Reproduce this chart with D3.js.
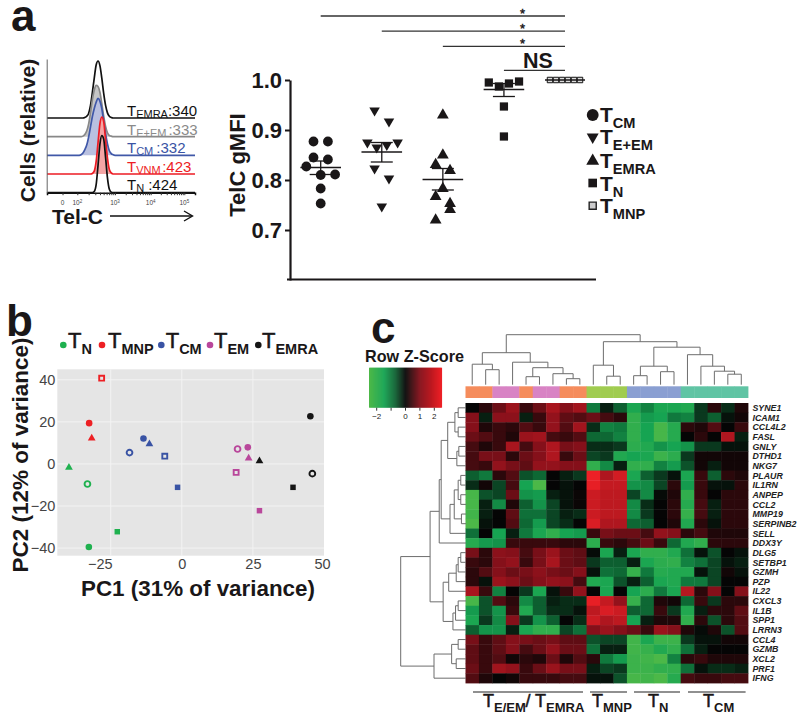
<!DOCTYPE html>
<meta charset="utf-8">
<style>
body { margin: 0; background: #fff; }
svg { display: block; font-family: "Liberation Sans", Arial, sans-serif; }
</style>
<body>
<script src="https://d3js.org/d3.v7.min.js"></script>
<script>

// ---- panel a, histograms (bin position in decades, height in % of mode)
var flowBins = [1.2,2,2.05,2.1,2.15,2.2,2.25,2.3,2.35,2.4,2.45,2.5,2.55,2.6,2.65,2.7,2.75,2.8,2.85,2.9,2.95,3,5.3];
var flowEmra = [0,0,0,0,0,1,3,8,22,45,70,93,100,92,70,43,22,9,3,1,0,0,0];
var flowEem  = [0,0,0,0,1,4,10,22,42,65,82,90,88,78,58,36,18,7,2,1,0,0,0];
var flowCm   = [0,0,0,1,4,10,18,32,50,68,82,93,100,95,82,60,38,20,8,3,1,0,0];
var flowVnm  = [0,0,0,0,0,0,0,0,0,1,5,22,55,88,100,92,60,28,8,2,0,0,0];
var flowN    = [0,0,0,0,0,0,0,0,0,0,2,14,48,85,100,94,62,26,6,1,0,0,0];

// ---- panel a, scatter
var scatterGroups = ["TCM","TEEM","TEMRA","TN","TMNP"];
var tcmValues   = [.877,.877,.845,.841,.827,.81,.811,.783,.753];
var tcmSlots    = [-1,1,-1,1,-2,0,2,0,0];
var teemValues  = [.939,.917,.875,.865,.87,.875,.823,.803,.747];
var teemSlots   = [-1,1,-2,-.7,.7,2.2,-1,1,0];
var temraValues = [.93,.85,.831,.819,.783,.767,.753,.741,.72];
var temraSlots  = [0,0,-1,1,0,-1,1,1,-1];
var tnValues    = [.995,.987,.993,.997,.947,.887];
var tnSlots     = [-2.1,-.7,.7,2.1,0,0];
var tmnpValues  = [1,1,1,1,1,1];
var tmnpSlots   = [-2.5,-1.5,-.5,.5,1.5,2.5];
var scatterMean = [.825,.856,.801,.981,1];
var scatterLow  = [.811,.836,.78,.967,1];
var scatterHigh = [.838,.875,.823,.993,1];
var yTicksA = [.7,.8,.9,1];
var compareFrom = ["TCM","TEEM","TEMRA","TN"];
var compareText = ["*","*","*","NS"];

// ---- panel b, PCA
var pcaColors = {TN:"#1fb14f", TMNP:"#ed2024", TCM:"#3953a4", TEM:"#b9479b", TEMRA:"#151515"};
var pcaGroup = ["TN","TN","TN","TN","TMNP","TMNP","TMNP","TCM","TCM","TCM","TCM","TCM","TEM","TEM","TEM","TEM","TEM","TEMRA","TEMRA","TEMRA","TEMRA"];
var pcaShape = ["tri","ocirc","sq","circ","osq","circ","tri","ocirc","circ","tri","osq","sq","ocirc","circ","tri","osq","sq","circ","tri","ocirc","sq"];
var pc1 = [-39.7,-33.2,-22.7,-32.7,-28.2,-32.6,-31.7,-18.4,-13.5,-11.4,-6,-1.5,19.6,23.2,23.5,19.1,27.3,45.2,27.3,45.9,39.1];
var pc2 = [-1.7,-9.5,-32.2,-39.5,40.8,19.4,12.2,5.4,12.1,9.5,3.7,-11.1,7.1,7.9,2.7,-4,-22.2,22.7,1.4,-4.6,-11.1];
var pcaLegend = ["TN","TMNP","TCM","TEM","TEMRA"];

// ---- panel c, heatmap
var geneLabels = ["SYNE1","ICAM1","CCL4L2","FASL","GNLY","DTHD1","NKG7","PLAUR","IL1RN","ANPEP","CCL2","MMP19","SERPINB2","SELL","DDX3Y","DLG5","SETBP1","GZMH","PZP","IL22","CXCL3","IL1B","SPP1","LRRN3","CCL4","GZMB","XCL2","PRF1","IFNG"];
var columnGroup = ["o","o","p","p","o","p","p","o","o","g","g","g","b","b","b","b","t","t","t","t","t"];
var groupColors = {o:"#f58c5c", p:"#d883c4", g:"#a0cc50", b:"#8a9fd2", t:"#60c4a4"};
var heatValues = [
  [0,.3,.8,1.3,.4,.8,1.5,1,1.4,-1,-.2,-.7,-1.6,-1.1,-1.6,-1.6,-1.7,-.4,.3,-.3,.2],
  [1,-.2,1.1,1.1,-.2,.4,1.2,.7,.6,.8,.5,.3,-2,-1.4,-1.5,-1,-1.1,-.4,-.7,-.1,.1],
  [1,.2,.4,.3,.6,.4,1.2,.6,1.4,-.3,-1.1,-1,-2,-1.5,-2.4,-1.8,.3,.2,.6,0,.4],
  [.8,.6,.4,.2,1.3,1.4,.5,.4,.6,-.8,-.8,-1.1,-2,-1.5,-2.4,-1.8,0,.3,0,1.6,-.2],
  [.5,.2,.4,1.5,.5,1,1.6,.9,1,-.3,-.3,-.4,-1.9,-1.7,-1.3,-1.5,-1.3,-.4,-.4,-.1,-.1],
  [.5,.9,.9,.3,.8,1,1.6,.4,.8,-.5,-.4,-1.7,-1.5,-1.6,-2.2,-1.9,-.4,.1,.1,.1,.1],
  [.5,.4,1.2,.9,.7,1.2,1.2,1,1,-2,-1.2,-.2,-2,-2,-1.1,-1.4,-.6,.1,-.2,.1,.1],
  [-.7,-1,.3,.6,-.6,-.8,0,-.2,-.4,2.5,1.6,2.1,-1.6,-.7,-.4,-.1,-1.6,.4,-.7,.3,.2],
  [-.3,.1,-.5,.5,-1.5,-2.5,0,-.1,0,2.4,1.9,1.9,-1.3,-1.2,-.5,.3,-1.4,.4,-.1,-.1,.3],
  [-2.4,-.6,-.5,.8,-1.3,-1.4,-.2,-.1,.05,2,1.8,1.8,-.5,-1.2,-.05,.2,-2,.4,0,.3,.3],
  [-2.4,-.2,-1.2,.2,-.7,-1.3,-.5,-.1,.05,2,1.8,1.8,-1.2,-.3,0,.3,-1.8,.5,-.2,.3,.3],
  [-2.3,-.2,0,.7,-.9,-.9,-.5,-.2,-.3,2,1.8,1.8,-1.2,-.4,0,.3,-2.1,.5,-.2,.3,.3],
  [-2.5,-.1,0,.6,-.8,-1.4,-.5,-.3,0,2.2,1.6,1.6,-.8,-.7,0,.2,-1.7,.3,-.1,.3,.3],
  [-.9,0,-1.5,-.2,-1,-1.6,-2,-1.5,-1.4,.4,.9,.8,.8,.5,1.2,1,.3,.5,.2,.2,.2],
  [-1.8,-1.4,-1.3,.4,.4,.4,.4,.3,.3,-1.9,.4,.3,.5,.8,.4,-.8,-1.7,-2,.3,.3,.3],
  [.9,.3,1.1,1,.5,.9,1.3,.8,.7,-.05,-1.6,-.2,-1.6,-2,-2,-1.7,-.9,-.1,-.6,0,-.1],
  [.4,.3,1,1.2,.4,.9,1.5,.8,.7,-.4,-.7,-.7,-.2,-1.6,-1.9,-2,-1.1,-.9,-.5,-.1,-.2],
  [.3,.6,1,.8,.9,1.1,.9,.8,1,-.1,-.9,-.8,-2.1,-1,-1.8,-1.7,-1.7,-.1,-.5,.1,-.1],
  [.3,-.1,1.3,1.1,.8,1,1.2,1.1,.5,-1.7,-1.6,-.6,-.2,-.7,-1.6,-1.7,-1,-1,-.5,0,0],
  [1.5,.4,-1.1,0,-.4,-1.6,-.1,.4,1.2,0,-1.6,0,-1.5,-1.9,-1,-1.6,1.7,.3,1,0,1],
  [-2.4,-.6,.6,.3,-1.2,-.7,-.2,-.3,-.3,2.4,1.9,1.2,-2.1,-.8,.2,.1,-.8,.4,-.4,.3,.3],
  [-1.4,-.6,-1.3,.4,-1.7,-.7,-.3,-.3,-.1,1.8,2.2,2,-.7,-.8,.4,-.4,-1.7,-.2,.3,.3,.7],
  [-1.6,-.4,-1.2,1,-.4,-1.3,-.7,0,-.3,2,1.6,1.8,-1.5,-.2,.2,.2,-2,.3,-.6,.3,.6],
  [-.7,-1.3,-1.3,-.2,-1.6,-2,-2,-.5,-.9,1,1.3,1,.8,.4,1.3,1,.2,-.05,.2,-.6,.6],
  [.9,.4,.7,1,.9,.8,.9,.7,.7,-.6,-.5,-.5,-2.3,-1.6,-2.2,-2.2,-.4,-.1,-.1,.1,.1],
  [.7,.4,.7,1,.5,.8,1.2,.8,.8,-.9,-.2,-.2,-2.3,-2.1,-1.7,-2,-.9,-.2,0,0,0],
  [.7,.4,.6,.1,.3,.2,.8,.2,.6,.3,-1,-1.4,-2.2,-2.3,-2.5,-1.1,.3,.4,.2,.2,.2],
  [.8,.4,1.4,1.2,.4,.8,1.3,.9,.9,-.2,-.5,-.4,-2.2,-2.2,-2,-2,-.9,-.1,-.3,-.3,-.2],
  [.6,.2,0,.1,.4,.4,.4,.5,.5,-.1,-.1,-.6,-2.4,-2.3,-2.5,-1.8,.5,.4,.4,.5,.5]
];
// dendrograms: [merge distance, left, right], numbers are leaf indexes
var columnTree = [10,
  [6.4, [4.1, 0, [3, 1, 2]], [4.5, 3, [3.4, [1.6, 4, 5], [2.2, 6, [1.2, 7, 8]]]]],
  [8.6, [3.9, 9, [1.7, 10, 11]],
    [7.5, [3.7, [1.8, 12, 13], [2.6, 14, 15]], [6, 16, [3.7, 17, [2.7, 18, [2.1, 19, 20]]]]]]];
var rowTree = [10,
  [5.5,
    [4.1, [3.8,
      [2.8, [1.7, [1.2, 0, 1], [1.2, 2, 3]], [1.4, [1.1, 4, 5], 6]],
      [2.45, [1.8, [1.2, [.8, 7, 8], [.8, 9, 10]], [.7, 11, 12]], 13]], 14],
    [3.5,
      [2.65, [1.5, [1.2, [.8, 15, 16], 17], 18], 19],
      [2, [1.6, [1.2, 20, 21], 22], 23]]],
  [4.9, [2.2, [1.2, 24, 25], [1.5, 26, 27]], 28]];
var keyTicks = [-2,-1,0,1,2];

var svg = d3.select("body").append("svg")
    .attr("width", 800)
    .attr("height", 720);

// T with a subscript and an optional tail, used all over the figure
function tLabel(parent, x, y, sub, o) {
  var t = parent.append("text")
      .attr("x", x).attr("y", y)
      .attr("fill", o.color || "#111")
      .attr("font-size", o.size)
      .attr("font-weight", o.bold ? "bold" : null);
  var main = t.append("tspan").text("T");
  if (o.heavy) main.attr("stroke", o.color).attr("stroke-width", o.heavy);
  t.append("tspan")
      .attr("dy", o.drop)
      .attr("font-size", o.subSize)
      .attr("font-weight", o.subBold ? "bold" : null)
      .text(sub);
  if (o.tail) {
    t.append("tspan").attr("dy", -o.drop).attr("dx", o.tailDx || 0).text(o.tail);
  }
  return t;
}

function panelLetter(letter, x, y) {
  svg.append("text").attr("x", x).attr("y", y)
      .attr("font-size", 44).attr("font-weight", "bold").attr("fill", "#1a1718")
      .text(letter);
}

panelLetter("a", 11, 31);
panelLetter("b", 6, 336);
panelLetter("c", 371, 343);

// ------------------------------------------------ panel a, histograms
var flowX = d3.scaleLinear().domain([1.2, 2, 3, 4, 5, 5.3]).range([47, 77.3, 115, 150.7, 184.3, 195]);
var flowY = d3.scaleLinear().domain([0, 100]).range([0, -57]);
var flowRows = [
  {values: flowEmra, base: 118, line: "#111", fill: "none", sub: "EMRA", tail: ":340", y: 116, tc: "#111", dx: 0},
  {values: flowEem, base: 136.7, line: "#888", fill: "#c6c6c6", sub: "E+EM", tail: ":333", y: 135, tc: "#8a8a8a", dx: 2},
  {values: flowCm, base: 155.3, line: "#4058a8", fill: "#b9c0e0", sub: "CM", tail: ":332", y: 153, tc: "#3a53a4", dx: 3},
  {values: flowVnm, base: 174, line: "#ed1c24", fill: "#f4a5a5", sub: "VNM", tail: ":423", y: 172, tc: "#ed1c24", dx: 1.5},
  {values: flowN, base: 192.7, line: "#111", fill: "none", sub: "N", tail: ":424", y: 190, tc: "#111", dx: 4}
];

var flow = svg.append("g");
flowRows.forEach(function(row) {
  var pts = flowBins.map(function(b, i) { return [b, row.values[i]]; });
  var g = flow.append("g").attr("transform", "translate(0," + row.base + ")");
  g.append("path").datum(pts)
      .attr("fill", row.fill)
      .attr("d", d3.area().x(function(d) { return flowX(d[0]); }).y0(0).y1(function(d) { return flowY(d[1]); }).curve(d3.curveMonotoneX));
  g.append("path").datum(pts)
      .attr("fill", "none").attr("stroke", row.line).attr("stroke-width", 1.7)
      .attr("d", d3.line().x(function(d) { return flowX(d[0]); }).y(function(d) { return flowY(d[1]); }).curve(d3.curveMonotoneX));
  tLabel(flow, 127, row.y, row.sub, {color: row.tc, size: 15, subSize: 11, drop: 2, tail: row.tail, tailDx: row.dx});
});

// log ticks, the 0 tick sits below the first decade
var flowTicks = [1.61];
[2, 3, 4].forEach(function(dec) {
  d3.range(1, 10).forEach(function(k) { flowTicks.push(dec + Math.log10(k)); });
});
flowTicks.push(5);
var flowAxis = d3.axisBottom(flowX).tickValues(flowTicks).tickSize(2.5).tickPadding(2)
    .tickFormat(function() { return ""; });
var fa = flow.append("g").attr("transform", "translate(0,192.7)").call(flowAxis);
fa.select(".domain").attr("stroke-width", 1.5).attr("stroke", "#111");
fa.selectAll(".tick line").attr("stroke", "#333");
[[1.61, "0"], [2, "10"], [3, "10"], [4, "10"], [5, "10"]].forEach(function(t, i) {
  var lab = flow.append("text").attr("x", flowX(t[0])).attr("y", 205)
      .attr("text-anchor", "middle").attr("font-size", 6.5).attr("fill", "#444").text(t[1]);
  if (i > 0) lab.append("tspan").attr("dy", -2).attr("font-size", 4.5).text(i + 1);
});
flow.append("g").attr("transform", "translate(46.7,0)")
    .call(d3.axisLeft(d3.scaleLinear().domain([0, 100]).range([192.7, 59])).ticks(0).tickSize(0))
    .select(".domain").attr("stroke", "#666").attr("stroke-width", 1);

svg.append("text").attr("transform", "translate(35,130.5) rotate(-90)")
    .attr("text-anchor", "middle").attr("font-size", 21).attr("font-weight", "bold").attr("fill", "#1a1718")
    .text("Cells (relative)");
svg.append("text").attr("x", 52).attr("y", 224)
    .attr("font-size", 21).attr("font-weight", "bold").attr("fill", "#1a1718").text("Tel-C");
svg.append("line").attr("x1", 110).attr("x2", 192).attr("y1", 216).attr("y2", 216)
    .attr("stroke", "#111").attr("stroke-width", 1.4);
svg.append("path").attr("d", "M184,211L192.5,216L184,221")
    .attr("fill", "none").attr("stroke", "#111").attr("stroke-width", 1.4);

// ------------------------------------------------ panel a, scatter
var yA = d3.scaleLinear().domain([.6, 1]).range([280, 80]);
var xA = d3.scalePoint().domain(scatterGroups).range([320.7, 565]);
var slotX = d3.scaleLinear().domain([-1, 1]).range([-7.2, 7.2]);
var symbolOf = {
  TCM: d3.symbol().type(d3.symbolCircle).size(75),
  TEEM: d3.symbol().type(d3.symbolTriangle).size(48),
  TEMRA: d3.symbol().type(d3.symbolTriangle).size(60),
  TN: d3.symbol().type(d3.symbolSquare).size(68),
  TMNP: d3.symbol().type(d3.symbolSquare).size(30)
};
var scatterSeries = [
  {g: "TCM", v: tcmValues, s: tcmSlots},
  {g: "TEEM", v: teemValues, s: teemSlots},
  {g: "TEMRA", v: temraValues, s: temraSlots},
  {g: "TN", v: tnValues, s: tnSlots},
  {g: "TMNP", v: tmnpValues, s: tmnpSlots}
];

var scatter = svg.append("g");
scatterSeries.forEach(function(series, i) {
  var cx = xA(series.g);
  var span = series.g == "TMNP" ? 20 : 20.3;
  scatter.selectAll(null).data(series.v).enter().append("path")
      .attr("d", symbolOf[series.g]())
      .attr("fill", series.g == "TMNP" ? "#ddd" : "#1a1718")
      .attr("stroke", series.g == "TMNP" ? "#111" : "none")
      .attr("transform", function(d, j) {
        var off = series.g == "TMNP" ? series.s[j] * 6 : slotX(series.s[j]);
        return "translate(" + (cx + off) + "," + yA(d) + ")" + (series.g == "TEEM" ? " rotate(180)" : "");
      });
  var stem = scatter.append("g").attr("stroke", "#1a1718").attr("stroke-width", 1.3);
  stem.append("line").attr("x1", cx - span).attr("x2", cx + span)
      .attr("y1", yA(scatterMean[i])).attr("y2", yA(scatterMean[i]));
  if (scatterLow[i] != scatterHigh[i]) {
    stem.append("line").attr("x1", cx).attr("x2", cx).attr("y1", yA(scatterLow[i])).attr("y2", yA(scatterHigh[i]));
    [scatterLow[i], scatterHigh[i]].forEach(function(v) {
      stem.append("line").attr("x1", cx - 11).attr("x2", cx + 11).attr("y1", yA(v)).attr("y2", yA(v));
    });
  }
});

var axA = scatter.append("g").attr("transform", "translate(290,0)")
    .call(d3.axisLeft(yA).tickValues(yTicksA).tickFormat(d3.format(".1f")).tickSize(5).tickSizeOuter(0).tickPadding(3));
axA.select(".domain").attr("stroke", "#1a1718").attr("stroke-width", 2.2);
axA.selectAll(".tick line").attr("stroke", "#1a1718").attr("stroke-width", 2);
axA.selectAll(".tick text").attr("font-size", 22).attr("font-weight", "bold").attr("fill", "#1a1718")
    .style("font-family", "inherit");
scatter.append("line").attr("x1", 287).attr("x2", 596).attr("y1", 279.5).attr("y2", 279.5)
    .attr("stroke", "#1a1718").attr("stroke-width", 2.2);

svg.append("text").attr("transform", "translate(245,165) rotate(-90)")
    .attr("text-anchor", "middle").attr("font-size", 22).attr("font-weight", "bold").attr("fill", "#1a1718")
    .text("TelC gMFI");

// comparison bars above the groups
var barY = d3.scalePoint().domain(compareFrom).range([16, 61.5]);
compareFrom.forEach(function(name, i) {
  var y = name == "TN" ? 70.3 : barY(name);
  svg.append("line").attr("x1", xA(name)).attr("x2", xA("TMNP")).attr("y1", y).attr("y2", y)
      .attr("stroke", "#333").attr("stroke-width", 1.3);
  if (name == "TN") {
    svg.append("text").attr("x", 523).attr("y", 67.5)
        .attr("font-size", 21.5).attr("font-weight", "bold").attr("fill", "#1a1718").text(compareText[i]);
  } else {
    svg.append("text").attr("x", 522.5).attr("y", y + 2).attr("text-anchor", "middle")
        .attr("font-size", 13).attr("fill", "#1a1718").attr("stroke", "#1a1718").attr("stroke-width", .4)
        .text(compareText[i]);
  }
});

// legend of panel a
var legendA = [
  {g: "TCM", sub: "CM", y: 115, ty: 122},
  {g: "TEEM", sub: "E+EM", y: 137, ty: 144},
  {g: "TEMRA", sub: "EMRA", y: 161, ty: 168},
  {g: "TN", sub: "N", y: 183, ty: 190.5},
  {g: "TMNP", sub: "MNP", y: 205.7, ty: 213}
];
legendA.forEach(function(it) {
  var big = {TCM: 110, TEEM: 62, TEMRA: 72, TN: 75, TMNP: 50}[it.g];
  svg.append("path")
      .attr("d", d3.symbol().type(it.g == "TCM" ? d3.symbolCircle : it.g == "TN" || it.g == "TMNP" ? d3.symbolSquare : d3.symbolTriangle).size(big)())
      .attr("fill", it.g == "TMNP" ? "#ccc" : "#1a1718")
      .attr("stroke", it.g == "TMNP" ? "#222" : "none")
      .attr("stroke-width", 1.4)
      .attr("transform", "translate(592.7," + it.y + ")" + (it.g == "TEEM" ? " rotate(180)" : ""));
  tLabel(svg, 600, it.ty, it.sub, {size: 21, bold: true, subSize: 14.6, subBold: true, drop: 6, color: "#1a1718"});
});

// ------------------------------------------------ panel b
var xB = d3.scaleLinear().domain([-43.8, 50]).range([57.3, 324]);
var yB = d3.scaleLinear().domain([-43.6, 45]).range([555.7, 369.3]);
var pca = svg.append("g");
pca.append("rect").attr("x", 57.3).attr("y", 369.3).attr("width", 266.7).attr("height", 186.4).attr("fill", "#e5e5e5");
[-25, 0, 25].forEach(function(v) {
  pca.append("line").attr("x1", xB(v)).attr("x2", xB(v)).attr("y1", 369.3).attr("y2", 555.7).attr("stroke", "#f3f3f3");
});
[-40, -20, 0, 20, 40].forEach(function(v) {
  pca.append("line").attr("x1", 57.3).attr("x2", 324).attr("y1", yB(v)).attr("y2", yB(v)).attr("stroke", "#f3f3f3");
});
var axBx = pca.append("g").attr("transform", "translate(0,555.7)")
    .call(d3.axisBottom(xB).tickValues([-25, 0, 25, 50]).tickSize(0).tickPadding(3));
axBx.select(".domain").remove();
axBx.selectAll("text").attr("font-size", 14.5).attr("fill", "#444").style("font-family", "inherit")
    .attr("dx", function(d) { return d == -25 ? -11 : d == 50 ? -2 : 0; });
var axBy = pca.append("g").attr("transform", "translate(57.3,0)")
    .call(d3.axisLeft(yB).tickValues([-40, -20, 0, 20, 40]).tickSize(0).tickPadding(2));
axBy.select(".domain").remove();
axBy.selectAll("text").attr("font-size", 14.5).attr("fill", "#444").style("font-family", "inherit");

var shapeType = {circ: d3.symbolCircle, ocirc: d3.symbolCircle, sq: d3.symbolSquare, osq: d3.symbolSquare, tri: d3.symbolTriangle};
var shapeSize = {circ: 34, ocirc: 26, sq: 30, osq: 24, tri: 26};
pca.selectAll("path.pt").data(pc1).enter().append("path")
    .attr("class", "pt")
    .attr("d", function(d, i) { return d3.symbol().type(shapeType[pcaShape[i]]).size(shapeSize[pcaShape[i]])(); })
    .attr("transform", function(d, i) { return "translate(" + xB(d) + "," + yB(pc2[i]) + ")"; })
    .attr("fill", function(d, i) { return pcaShape[i].charAt(0) == "o" ? "none" : pcaColors[pcaGroup[i]]; })
    .attr("stroke", function(d, i) { return pcaShape[i].charAt(0) == "o" ? pcaColors[pcaGroup[i]] : "none"; })
    .attr("stroke-width", 1.9);

var legendB = d3.scaleOrdinal().domain(pcaLegend).range([63.3, 102, 161.3, 210, 258.3]);
var legendBt = d3.scaleOrdinal().domain(pcaLegend).range([68, 108, 165.7, 214, 262]);
pcaLegend.forEach(function(name) {
  pca.append("circle").attr("cx", legendB(name)).attr("cy", 345).attr("r", 3.3).attr("fill", pcaColors[name]);
  tLabel(pca, legendBt(name), 348.3, name.slice(1), {size: 22, heavy: .5, subSize: 14.5, subBold: true, drop: 5.5, color: "#1a1718"});
});

svg.append("text").attr("transform", "translate(28,455) rotate(-90)")
    .attr("text-anchor", "middle").attr("font-size", 22.5).attr("font-weight", "bold").attr("fill", "#1a1718")
    .text("PC2 (12% of variance)");
svg.append("text").attr("x", 198).attr("y", 596)
    .attr("text-anchor", "middle").attr("font-size", 22.4).attr("font-weight", "bold").attr("fill", "#1a1718")
    .text("PC1 (31% of variance)");

// ------------------------------------------------ panel c
var heatColor = d3.scaleLinear()
    .domain([-2.5, -1.5, -.7, 0, 1, 2.5])
    .range(["#4cb848", "#16a452", "#0d5f30", "#050505", "#85101a", "#ee2026"]);
var xC = d3.scaleBand().domain(d3.range(21)).range([465.5, 748]);
var yC = d3.scaleBand().domain(d3.range(29)).range([403, 683]);

var heat = svg.append("g");
heatValues.forEach(function(row, r) {
  heat.selectAll(null).data(row).enter().append("rect")
      .attr("x", function(d, c) { return xC(c); })
      .attr("y", yC(r))
      .attr("width", xC.bandwidth() + .4)
      .attr("height", yC.bandwidth() + .4)
      .attr("fill", function(d) { return heatColor(d); });
});

heat.selectAll("rect.band").data(columnGroup).enter().append("rect")
    .attr("class", "band")
    .attr("x", function(d, c) { return xC(c); })
    .attr("y", 386.3)
    .attr("width", xC.bandwidth() + .4)
    .attr("height", 11.7)
    .attr("fill", function(d) { return groupColors[d]; });

heat.selectAll("text.gene").data(geneLabels).enter().append("text")
    .attr("class", "gene")
    .attr("x", 752.5)
    .attr("y", function(d, r) { return yC(r) + yC.bandwidth() / 2 + 3.2; })
    .attr("font-size", 8.8).attr("font-weight", "bold").attr("font-style", "italic").attr("fill", "#222")
    .text(function(d) { return d; });

// walks a [dist, a, b] tree and gives back the joint lines
function dendroLines(tree, leafPos) {
  var lines = [];
  function walk(n) {
    if (typeof n == "number") return {pos: leafPos(n), h: 0};
    var a = walk(n[1]), b = walk(n[2]);
    lines.push([[a.pos, a.h], [a.pos, n[0]]]);
    lines.push([[b.pos, b.h], [b.pos, n[0]]]);
    lines.push([[a.pos, n[0]], [b.pos, n[0]]]);
    return {pos: (a.pos + b.pos) / 2, h: n[0]};
  }
  walk(tree);
  return lines;
}

var colH = d3.scaleLinear().domain([0, 10]).range([384.7, 334.7]);
var colLines = dendroLines(columnTree, function(i) { return xC(i) + xC.bandwidth() / 2; });
heat.selectAll("line.cd").data(colLines).enter().append("line")
    .attr("class", "cd")
    .attr("x1", function(d) { return d[0][0]; }).attr("x2", function(d) { return d[1][0]; })
    .attr("y1", function(d) { return colH(d[0][1]); }).attr("y2", function(d) { return colH(d[1][1]); })
    .attr("stroke", "#6d6d6d").attr("stroke-width", 1);

var rowH = d3.scaleLinear().domain([0, 10]).range([466, 400.7]);
var rowLines = dendroLines(rowTree, function(i) { return yC(i) + yC.bandwidth() / 2; });
heat.selectAll("line.rd").data(rowLines).enter().append("line")
    .attr("class", "rd")
    .attr("x1", function(d) { return rowH(d[0][1]); }).attr("x2", function(d) { return rowH(d[1][1]); })
    .attr("y1", function(d) { return d[0][0]; }).attr("y2", function(d) { return d[1][0]; })
    .attr("stroke", "#6d6d6d").attr("stroke-width", 1);

// color key
var keyX = d3.scaleLinear().domain([-2.5, 2.5]).range([369, 441]);
heat.selectAll("rect.key").data(d3.range(-2.5, 2.5, .07)).enter().append("rect")
    .attr("class", "key")
    .attr("x", function(d) { return keyX(d); })
    .attr("y", 367.7)
    .attr("width", keyX(.07) - keyX(0) + .5)
    .attr("height", 40)
    .attr("fill", function(d) { return heatColor(d); });
var keyAxis = heat.append("g").attr("transform", "translate(0,407.7)")
    .call(d3.axisBottom(keyX).tickValues(keyTicks).tickSize(3).tickPadding(3)
      .tickFormat(function(d) { return d == -1 ? "" : d3.format("d")(d); }));
keyAxis.select(".domain").remove();
keyAxis.selectAll("text").attr("font-size", 8).attr("fill", "#222").style("font-family", "inherit");
keyAxis.selectAll("line").attr("stroke", "#333");

svg.append("text").attr("x", 365).attr("y", 362)
    .attr("font-size", 16.2).attr("font-weight", "bold").attr("fill", "#1a1718").text("Row Z-Score");

// cluster brackets under the heatmap
[[473, 583], [590, 627], [634, 680], [688, 745.6]].forEach(function(b) {
  svg.append("line").attr("x1", b[0]).attr("x2", b[1]).attr("y1", 692).attr("y2", 692)
      .attr("stroke", "#222").attr("stroke-width", 1.2);
});
var under = {size: 18, heavy: .5, subSize: 13, subBold: true, drop: 5, color: "#1a1718"};
tLabel(svg, 483, 707, "E/EM", under);
svg.append("text").attr("x", 525.5).attr("y", 707).attr("font-size", 18).attr("fill", "#1a1718")
    .attr("stroke", "#1a1718").attr("stroke-width", .5).text("/");
tLabel(svg, 535, 707, "EMRA", under);
tLabel(svg, 592, 707, "MNP", under);
tLabel(svg, 648, 707, "N", under);
tLabel(svg, 703, 707, "CM", under);

</script>
</body>
